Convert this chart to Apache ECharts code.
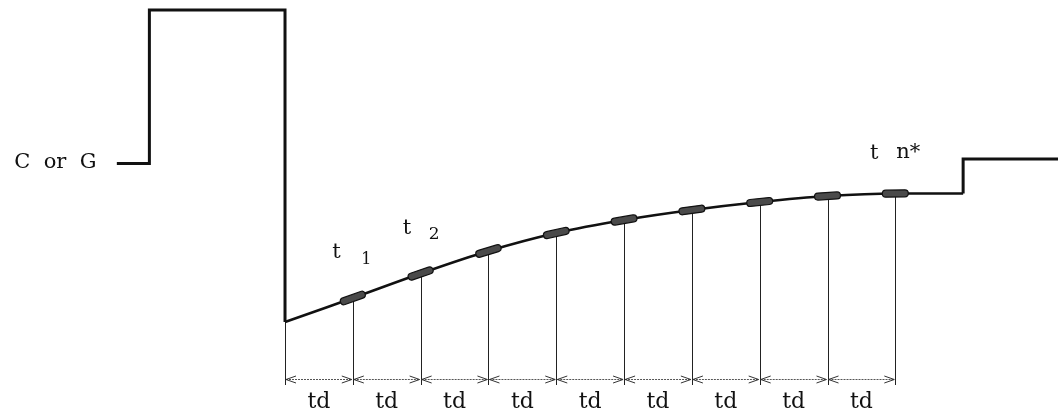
<!DOCTYPE html>
<html><head><meta charset="utf-8">
<script src="https://cdn.jsdelivr.net/npm/echarts/dist/echarts.min.js"></script>
<style>html,body{margin:0;padding:0;background:#fff}#chart{width:1058px;height:415px}</style>
</head><body><div id="chart"></div>
<script>
// ---- data (time in units of td, signal level in arbitrary units) ----
const inputT = [-2.48, -2, -2, 0, 0];
const inputLevel = [251.5, 251.5, 405, 405, 93];
const curveT = [0, 1, 2, 3, 4, 5, 6, 7, 8, 9, 10];
const curveLevel = [93, 117, 141.5, 164, 182, 195, 205, 213, 219, 221.5, 221.5];
const tailT = [10, 10, 11.4];
const tailLevel = [221.5, 256, 256];
const sampleT = [1, 2, 3, 4, 5, 6, 7, 8, 9];
const intervalLabels = ['td', 'td', 'td', 'td', 'td', 'td', 'td', 'td', 'td'];
const inputLabel = 'C or G';
const sampleNames = ['t', '1', 't', '2', 't', 'n*'];

// ---- layout (not data) ----
const dropBottom = 30, dimLevel = 36, tdLevel = 13;
const nameLayout = [
  {t: 0.76, v: 162, size: 21}, {t: 1.20, v: 155, size: 16},
  {t: 1.80, v: 186, size: 21}, {t: 2.20, v: 180, size: 17},
  {t: 8.69, v: 261, size: 21}, {t: 9.19, v: 262, size: 21}
];
const FONT = '"DejaVu Serif", serif';
const INK = '#111';

const chart = echarts.init(document.getElementById('chart'), null, {renderer: 'canvas'});
const zip = (a, b) => a.map((x, i) => [x, b[i]]);

const option = {
  animation: false,
  backgroundColor: '#fff',
  grid: {left: 0, right: 0, top: 0, bottom: 0},
  xAxis: {type: 'value', min: -4.203, max: 11.399, show: false},
  yAxis: {type: 'value', min: 0, max: 415, show: false},
  series: [
    { // drop lines from curve to dimension line
      type: 'custom', silent: true, z: 1,
      data: zip(curveT.slice(0, 10), curveLevel.slice(0, 10)),
      renderItem: (params, api) => {
        const p = api.coord([api.value(0), api.value(1)]);
        const b = api.coord([api.value(0), dropBottom]);
        return {type: 'line', shape: {x1: Math.round(p[0]) + 0.5, y1: p[1], x2: Math.round(p[0]) + 0.5, y2: b[1]},
          style: {stroke: '#222', lineWidth: 1}};
      }
    },
    { // dimension arrows and td labels
      type: 'custom', silent: true, z: 1,
      data: intervalLabels.map((s, i) => [curveT[i], curveT[i + 1]]),
      renderItem: (params, api) => {
        const a = api.coord([api.value(0), dimLevel]);
        const b = api.coord([api.value(1), dimLevel]);
        const y = Math.round(a[1]) + 0.5;
        const c = api.coord([(api.value(0) + api.value(1)) / 2, tdLevel]);
        const st = {stroke: '#333', lineWidth: 1, fill: null};
        return {type: 'group', children: [
          {type: 'line', shape: {x1: a[0] + 1, y1: y, x2: b[0] - 1, y2: y}, style: {stroke: '#555', lineWidth: 1, lineDash: [2, 1]}},
          {type: 'polyline', shape: {points: [[a[0] + 11, y - 3.5], [a[0] + 1, y], [a[0] + 11, y + 3.5]]}, style: st},
          {type: 'polyline', shape: {points: [[b[0] - 11, y - 3.5], [b[0] - 1, y], [b[0] - 11, y + 3.5]]}, style: st},
          {type: 'text', x: c[0], y: c[1], style: {text: intervalLabels[params.dataIndex], font: '22px ' + FONT,
            fill: INK, align: 'center', verticalAlign: 'middle'}}
        ]};
      }
    },
    { // input pulse
      type: 'line', data: zip(inputT, inputLevel), symbol: 'none', z: 3,
      lineStyle: {color: INK, width: 3, join: 'miter'}
    },
    { // response curve
      type: 'line', data: zip(curveT, curveLevel), symbol: 'none', smooth: 0.35, z: 3,
      lineStyle: {color: INK, width: 2.6}
    },
    { // final step
      type: 'line', data: zip(tailT, tailLevel), symbol: 'none', z: 3,
      lineStyle: {color: INK, width: 3, join: 'miter'}
    },
    { // sampling markers on the curve
      type: 'custom', silent: true, z: 4,
      data: sampleT.map(t => [t, curveLevel[t]]),
      renderItem: (params, api) => {
        const t = api.value(0);
        const p = api.coord([t, api.value(1)]);
        const i = curveT.indexOf(t);
        const p0 = api.coord([curveT[i - 1], curveLevel[i - 1]]);
        const p1 = api.coord([curveT[i + 1], curveLevel[i + 1]]);
        const ang = Math.atan2(p1[1] - p0[1], p1[0] - p0[0]);
        return {type: 'rect', x: p[0], y: p[1], rotation: -ang,
          shape: {x: -13, y: -3.5, width: 26, height: 7, r: 3.5},
          style: {fill: '#4a4a4a', stroke: '#111', lineWidth: 1.2}};
      }
    },
    { // text labels
      type: 'custom', silent: true, z: 5,
      data: nameLayout.map(l => [l.t, l.v]),
      renderItem: (params, api) => {
        const p = api.coord([api.value(0), api.value(1)]);
        const l = nameLayout[params.dataIndex];
        return {type: 'text', x: p[0], y: p[1], style: {text: sampleNames[params.dataIndex],
          font: l.size + 'px ' + FONT, fill: INK, align: 'center', verticalAlign: 'middle'}};
      }
    },
    { // input label
      type: 'custom', silent: true, z: 5,
      data: [[-2.78, 252]],
      renderItem: (params, api) => {
        const p = api.coord([api.value(0), api.value(1)]);
        return {type: 'text', x: p[0], y: p[1], style: {text: inputLabel.replace(/ /g, '  '),
          font: '21px ' + FONT, fill: INK, align: 'right', verticalAlign: 'middle'}};
      }
    }
  ]
};
chart.setOption(option);
</script></body></html>
